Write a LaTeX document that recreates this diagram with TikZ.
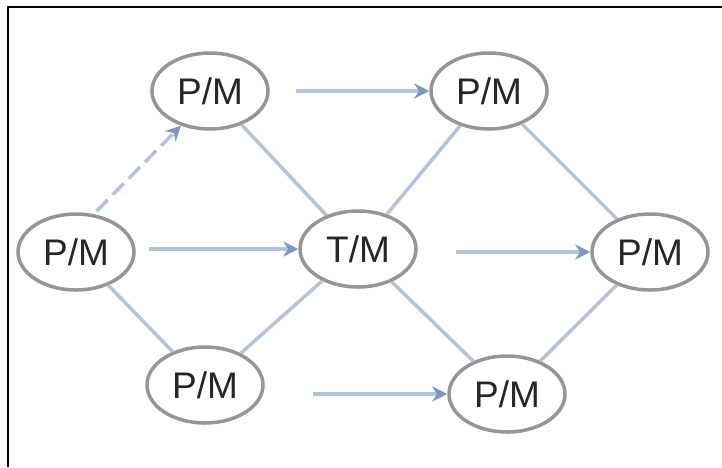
\documentclass[tikz,border=0pt]{standalone}
\usepackage{fontspec}
\setmainfont{Liberation Sans}
\usetikzlibrary{arrows.meta,shapes.geometric}
\definecolor{edgec}{RGB}{180,196,216}
\definecolor{tipc}{RGB}{125,152,190}
\definecolor{ringc}{RGB}{150,150,150}
\begin{document}
\begin{tikzpicture}[x=1pt,y=-1pt,
  pm/.style={ellipse, draw=ringc, line width=3.5pt, minimum width=116pt, minimum height=76pt,
    inner sep=0pt, font=\fontsize{37}{37}\selectfont, text=black!85},
  link/.style={draw=edgec, line width=3.5pt},
  arr/.style={link, -{Stealth[length=15pt,width=15pt,color=tipc,fill=tipc]}}]
\useasboundingbox (0,0) rectangle (722,467);
\fill[white] (0,0) rectangle (722,467);
\draw[line width=2pt] (8,467) -- (8,7) -- (722,7);

\node[pm] (A) at (210,91) {P/M};
\node[pm] (B) at (489,91) {P/M};
\node[pm] (C) at (76,252) {P/M};
\node[pm] (D) at (358,249) {T/M};
\node[pm] (E) at (650,252) {P/M};
\node[pm] (F) at (205,385) {P/M};
\node[pm] (G) at (507,394) {P/M};

\draw[arr, dash pattern=on 16pt off 7pt, shorten <=4pt] (C.65) -- (A.230);
\draw[arr, shorten <=26pt] (A) -- (B);
\draw[arr, shorten <=13pt] (C.east |- D.west) -- (D.west);
\draw[arr, shorten <=38pt] (D.east |- E.west) -- (E.west);
\draw[arr, shorten <=48pt] (F.east |- G.west) -- (G.west);

\draw[link] (A) -- (D);
\draw[link] (B) -- (D);
\draw[link] (C) -- (F);
\draw[link] (F) -- (D);
\draw[link] (B) -- (E);
\draw[link] (D) -- (G);
\draw[link] (G) -- (E);
\end{tikzpicture}
\end{document}
